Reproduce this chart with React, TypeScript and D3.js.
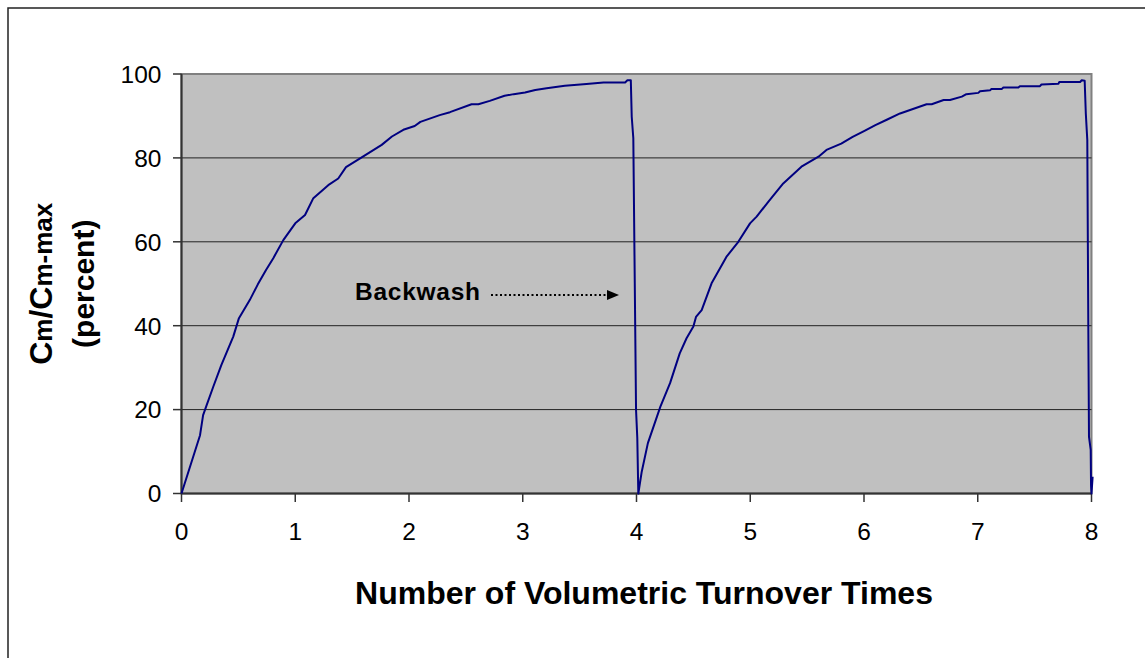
import React from "react";
import * as d3 from "d3";

const turnoverTimes: number[] = [
  0, 0.163, 0.19, 0.215, 0.28, 0.35, 0.455, 0.505, 0.6, 0.67, 0.743, 0.807, 0.895, 1.0, 1.086,
  1.159, 1.29, 1.378, 1.446, 1.57, 1.76, 1.85, 1.95, 2.05, 2.1, 2.27, 2.36, 2.55, 2.61, 2.71,
  2.84, 2.92, 3.02, 3.11, 3.21, 3.37, 3.56, 3.71, 3.9, 3.92, 3.95, 3.958, 3.972, 3.996, 4.007,
  4.016, 4.046, 4.1, 4.21, 4.295, 4.38, 4.44, 4.5, 4.523, 4.573, 4.66, 4.79, 4.895, 4.998, 5.056,
  5.16, 5.29, 5.45, 5.6, 5.67, 5.8, 5.9, 6.0, 6.1, 6.2, 6.317, 6.55, 6.595, 6.7, 6.756, 6.86,
  6.9, 7.005, 7.02, 7.108, 7.12, 7.21, 7.225, 7.357, 7.37, 7.547, 7.56, 7.71, 7.717, 7.9, 7.914,
  7.94, 7.95, 7.963, 7.972, 7.978, 7.993, 7.996, 8.0, 8.01,
];

const concentrationPct: number[] = [
  0, 13.9, 18.7, 20.6, 25.5, 30.6, 37.4, 41.8, 46.1, 49.8, 53.3, 56.1, 60.4, 64.4, 66.4,
  70.4, 73.5, 75.1, 77.8, 79.9, 83.1, 85.1, 86.7, 87.6, 88.6, 90.2, 90.9, 92.8, 92.8, 93.6,
  94.8, 95.2, 95.6, 96.2, 96.6, 97.2, 97.6, 98.0, 98.0, 98.5, 98.5, 89.8, 84.7, 19.9, 13.2,
  0, 5.2, 12, 20.7, 26.3, 33.4, 37, 39.8, 42.1, 43.7, 50.1, 56.4, 60, 64.4, 66,
  69.6, 73.9, 77.9, 80.3, 81.9, 83.4, 85.0, 86.4, 87.8, 89.1, 90.6, 92.8, 92.8, 93.8, 93.8, 94.6,
  95.2, 95.5, 95.9, 96.1, 96.4, 96.4, 96.8, 96.8, 97.1, 97.1, 97.5, 97.7, 98.1, 98.1, 98.5,
  98.4, 90.6, 84.3, 39.8, 13.5, 10.4, 2, 0, 4,
];

const xTicks: number[] = [0, 1, 2, 3, 4, 5, 6, 7, 8];
const yTicks: number[] = [0, 20, 40, 60, 80, 100];

const W = 1145;
const H = 658;
const L = 181.5;
const R = 1091.5;
const T = 74;
const B = 493.5;

export default function App() {
  const x = d3.scaleLinear().domain([0, 8]).range([L, R]);
  const y = d3.scaleLinear().domain([0, 100]).range([B, T]);
  const pts = turnoverTimes.map((t, i) => [t, concentrationPct[i]] as [number, number]);
  const line = d3
    .line<[number, number]>()
    .x((d) => x(d[0]))
    .y((d) => y(d[1]));

  const font = "Arial, 'Liberation Sans', Helvetica, sans-serif";
  const cy = (T + B) / 2;

  return (
    <svg
      width={W}
      height={H}
      style={{ position: "absolute", left: 0, top: 0, display: "block", background: "#fff" }}
      fontFamily={font}
    >
      <rect x={8} y={8} width={W + 20} height={H + 20} fill="#fff" stroke="#222" strokeWidth={1.5} />

      <rect x={L} y={T} width={R - L} height={B - T} fill="#C0C0C0" stroke="#808080" strokeWidth={2} />

      {yTicks
        .filter((v) => v > 0 && v < 100)
        .map((v) => (
          <line key={"g" + v} x1={L} x2={R} y1={y(v)} y2={y(v)} stroke="#222" strokeWidth={1} />
        ))}

      <line x1={L} x2={L} y1={T} y2={B} stroke="#333" strokeWidth={2} />
      <line x1={L} x2={R} y1={B} y2={B} stroke="#333" strokeWidth={2} />

      {yTicks.map((v) => (
        <g key={"y" + v}>
          <line x1={L - 8.5} x2={L} y1={y(v)} y2={y(v)} stroke="#333" strokeWidth={1.5} />
          <text x={161.5} y={y(v) + 8.8} fontSize={24.5} textAnchor="end" fill="#000">
            {v}
          </text>
        </g>
      ))}

      {xTicks.map((v) => (
        <g key={"x" + v}>
          <line x1={x(v)} x2={x(v)} y1={B} y2={B + 8.5} stroke="#333" strokeWidth={1.5} />
          <text x={x(v)} y={540} fontSize={24.5} textAnchor="middle" fill="#000">
            {v}
          </text>
        </g>
      ))}

      <path d={line(pts) || ""} fill="none" stroke="#000080" strokeWidth={2} strokeLinejoin="round" />

      <text x={355} y={299.5} fontSize={24.5} fontWeight="bold" fill="#000" textLength={125} lengthAdjust="spacing">
        Backwash
      </text>
      <line x1={491} x2={609} y1={295} y2={295} stroke="#000" strokeWidth={2} strokeDasharray="2,2.5" />
      <path d="M607,290 L619,295 L607,300 Z" fill="#000" />

      <text x={644} y={604} fontSize={32} fontWeight="bold" textAnchor="middle" fill="#000">
        Number of Volumetric Turnover Times
      </text>

      <g transform={`translate(51.7, ${cy}) rotate(-90)`}>
        <text x={0} y={0} fontWeight="bold" textAnchor="middle" fill="#000">
          <tspan fontSize={32}>C</tspan>
          <tspan fontSize={26}>m</tspan>
          <tspan fontSize={32}>/C</tspan>
          <tspan fontSize={26}>m-max</tspan>
        </text>
      </g>
      <g transform={`translate(94, ${cy}) rotate(-90)`}>
        <text x={0} y={0} fontSize={30} fontWeight="bold" textAnchor="middle" fill="#000">
          (percent)
        </text>
      </g>
    </svg>
  );
}
